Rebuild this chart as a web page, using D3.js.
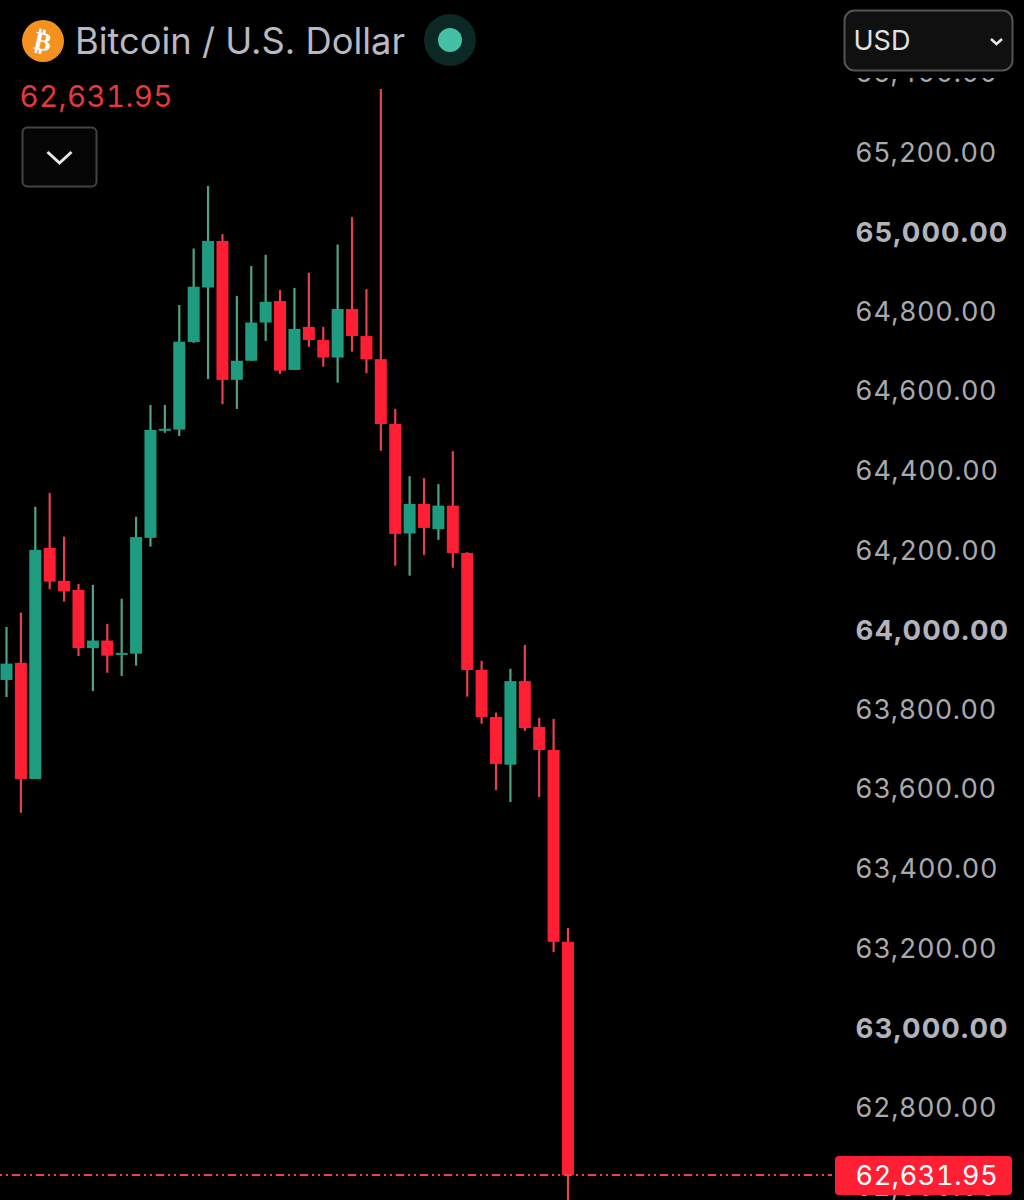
<!DOCTYPE html>
<html><head><meta charset="utf-8">
<script src="https://cdn.jsdelivr.net/npm/d3@7/dist/d3.min.js"></script>
<style>html,body{margin:0;padding:0;background:#000}svg{display:block}text{font-family:Inter,"Liberation Sans",sans-serif}.num{font-variant-numeric:tabular-nums}</style>
</head><body><div id="chart"></div>
<script>
const opens =[63872,63915,63623,64204,64121,64098,63952,63971,63937,63938,64229,64498,64501,64721,64858,64975,64626,64674,64770,64824,64651,64759,64726,64682,64804,64736,64678,64515,64240,64314,64251,64310,64191,63897,63779,63659,63869,63754,63696,63214];
const highs =[64005,64041,64307,64342,64232,64113,64111,64013,64076,64282,64563,64563,64814,64956,65113,64992,64837,64912,64940,64852,64857,64895,64759,64966,65035,64854,65357,64553,64384,64379,64364,64447,64193,63920,63790,63900,63960,63777,63774,63249];
const lows  =[63829,63538,63623,64100,64069,63932,63844,63890,63882,63908,64207,64493,64485,64719,64628,64565,64553,64674,64724,64641,64651,64709,64659,64619,64697,64643,64448,64159,64134,64186,64224,64154,63830,63762,63595,63565,63744,63578,63188,62500];
const closes=[63913,63623,64199,64119,64095,63952,63971,63933,63940,64231,64500,64503,64722,64860,64975,64626,64674,64770,64822,64649,64754,64726,64682,64804,64736,64678,64515,64239,64314,64254,64310,64191,63897,63779,63661,63869,63751,63696,63214,62628];
const tickValues=[62600,62800,63000,63200,63400,63600,63800,64000,64200,64400,64600,64800,65000,65200,65400];
const lastPrice="62,631.95", title="Bitcoin / U.S. Dollar", currency="USD";

const W=1024,H=1200;
const svg=d3.select("#chart").append("svg").attr("width",W).attr("height",H).attr("viewBox",[0,0,W,H]);
svg.append("rect").attr("width",W).attr("height",H).attr("fill","#000");

const y=d3.scaleLinear().domain([63000,64000]).range([1027,629]);
const x=d3.scaleLinear().domain([0,39]).range([6.5,568]);
const idx=d3.range(opens.length);
const green="#1f9b80",red="#ff1f35",gWick="#4fa386",rWick="#e8404e";
const up=i=>closes[i]>=opens[i];

// price axis
const axis=d3.axisRight(y).tickValues(tickValues).tickSize(0).tickPadding(0)
  .tickFormat(d=>d3.format(",.2f")(d));
const ag=svg.append("g").attr("transform","translate(855.5,0)").call(axis);
ag.select(".domain").remove();
ag.selectAll("text")
  .attr("fill",d=>d%1000===0?"#b2b3bb":"#a8a9ae")
  .attr("font-weight",d=>d%1000===0?700:400)
  .attr("font-size",d=>d%1000===0?27.5:27)
  .attr("letter-spacing",d=>d%1000===0?"1.05px":"1.15px")
  .attr("dy",d=>d%1000===0?"0.39em":"0.36em");
svg.append("rect").attr("x",830).attr("y",0).attr("width",194).attr("height",78).attr("fill","#000");

// candles
const plot=svg.append("g");
plot.selectAll("line.wick").data(idx).join("line").attr("class","wick")
  .attr("x1",i=>x(i)).attr("x2",i=>x(i)).attr("y1",i=>y(highs[i])).attr("y2",i=>y(lows[i]))
  .attr("stroke",i=>up(i)?gWick:rWick).attr("stroke-width",2.2);
plot.selectAll("rect.body").data(idx).join("rect").attr("class","body")
  .attr("x",i=>x(i)-6).attr("width",12)
  .attr("y",i=>y(Math.max(opens[i],closes[i])))
  .attr("height",i=>Math.max(2,Math.abs(y(opens[i])-y(closes[i]))))
  .attr("fill",i=>up(i)?green:red);

// last price line and tag
const ly=y(closes[closes.length-1]);
svg.append("line").attr("x1",0).attr("x2",832).attr("y1",ly).attr("y2",ly)
  .attr("stroke","#f0404c").attr("stroke-width",2).attr("stroke-dasharray","2 4 2 4 8 4");
svg.append("rect").attr("x",835).attr("y",ly-19).attr("width",177).attr("height",39).attr("rx",4).attr("fill",red);
svg.append("text").attr("class","num").attr("x",855.5).attr("y",ly+.5).attr("dy","0.36em").attr("fill","#fff")
  .attr("font-size",27).attr("letter-spacing","0.65px").text(lastPrice);

// header
svg.append("circle").attr("cx",43).attr("cy",41).attr("r",21).attr("fill","#f4921f");
svg.append("text").attr("x",43).attr("y",41).attr("dy","0.36em").attr("text-anchor","middle")
  .attr("transform","rotate(12 43 41)").attr("fill","#fff").attr("font-weight",700).attr("font-size",26)
  .style("font-family","'DejaVu Sans'").text("₿");
svg.append("text").attr("x",75).attr("y",40.5).attr("dy","0.36em").attr("fill","#b8b9c2").attr("font-size",36.3).text(title);
svg.append("circle").attr("cx",450).attr("cy",40).attr("r",26).attr("fill","#0c2825");
svg.append("circle").attr("cx",450).attr("cy",40).attr("r",12).attr("fill","#45bfa5");
svg.append("text").attr("class","num").attr("x",19.5).attr("y",96).attr("dy","0.36em").attr("fill","#e5383f").attr("font-size",29.5).attr("letter-spacing","0.4px").text(lastPrice);

svg.append("rect").attr("x",22.5).attr("y",127.5).attr("width",74).attr("height",59).attr("rx",5)
  .attr("fill","#050505").attr("stroke","#444").attr("stroke-width",2);
svg.append("path").attr("d","M47.5 152L59.5 163L71.5 152").attr("fill","none").attr("stroke","#e8e8e8").attr("stroke-width",3);

svg.append("rect").attr("x",844.5).attr("y",10.5).attr("width",168).attr("height",60).attr("rx",10)
  .attr("fill","#101010").attr("stroke","#545454").attr("stroke-width",2);
svg.append("text").attr("x",853.5).attr("y",40).attr("dy","0.36em").attr("fill","#e2e2e2").attr("font-size",27).text(currency);
svg.append("path").attr("d","M991 39L996.5 44L1002 39").attr("fill","none").attr("stroke","#e8e8e8").attr("stroke-width",2.5);
</script></body></html>
